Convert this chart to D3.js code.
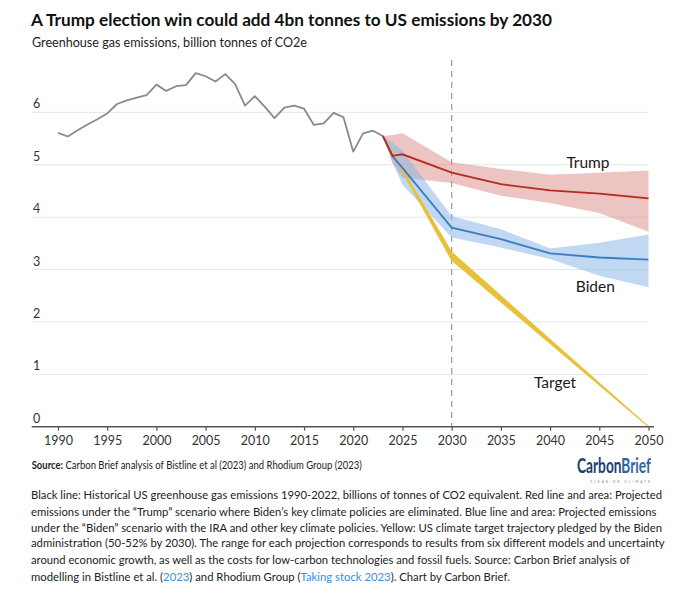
<!DOCTYPE html>
<html>
<head>
<meta charset="utf-8">
<script src="https://cdn.jsdelivr.net/npm/d3@7"></script>
<style>
  body { margin: 0; background: #fff; }
  svg { display: block; font-family: Lato, "Open Sans", sans-serif; }
</style>
</head>
<body>
<svg id="chart" width="680" height="596"></svg>
<script>
// historical emissions, GtCO2e
const histYears = [1990, 1991, 1992, 1993, 1994, 1995, 1996, 1997, 1998, 1999,
  2000, 2001, 2002, 2003, 2004, 2005, 2006, 2007, 2008, 2009,
  2010, 2011, 2012, 2013, 2014, 2015, 2016, 2017, 2018, 2019,
  2020, 2021, 2022, 2023];
const histValues = [5.61, 5.54, 5.66, 5.77, 5.87, 5.98, 6.16, 6.23, 6.28, 6.33,
  6.53, 6.41, 6.50, 6.52, 6.75, 6.69, 6.59, 6.73, 6.54, 6.13,
  6.31, 6.11, 5.89, 6.09, 6.13, 6.07, 5.76, 5.79, 5.99, 5.91,
  5.25, 5.60, 5.65, 5.55];

// projections
const projYears = [2023, 2024, 2025, 2030, 2035, 2040, 2045, 2050];
const trumpMid  = [5.55, 5.17, 5.20, 4.85, 4.63, 4.51, 4.45, 4.36];
const trumpHigh = [5.55, 5.57, 5.60, 5.05, 4.92, 4.81, 4.85, 4.89];
const trumpLow  = [5.55, 5.02, 4.75, 4.65, 4.41, 4.27, 4.08, 3.72];
const bidenMid  = [5.55, 5.16, 4.94, 3.80, 3.58, 3.31, 3.23, 3.19];
const bidenHigh = [5.55, 5.42, 5.27, 4.02, 3.77, 3.40, 3.51, 3.67];
const bidenLow  = [5.55, 5.05, 4.62, 3.61, 3.42, 3.20, 2.88, 2.66];

const targetYears = [2023, 2030, 2050];
const targetHigh = [5.55, 3.33, 0];
const targetLow  = [5.55, 3.18, 0];

const xTicks = [1990, 1995, 2000, 2005, 2010, 2015, 2020, 2025, 2030, 2035, 2040, 2045, 2050];
const yTicks = [0, 1, 2, 3, 4, 5, 6];

const labelNames  = ["Trump", "Biden", "Target"];
const labelYears  = [2043.85, 2044.6, 2040.5];
const labelValues = [4.94, 2.58, 0.74];

const titleText = "A Trump election win could add 4bn tonnes to US emissions by 2030";
const subtitleText = "Greenhouse gas emissions, billion tonnes of CO2e";

// caption, one entry per line: [text, isLink]
const captionLines = [
  [["Black line: Historical US greenhouse gas emissions 1990-2022, billions of tonnes of CO2 equivalent. Red line and area: Projected", 0]],
  [["emissions under the \u201CTrump\u201D scenario where Biden\u2019s key climate policies are eliminated. Blue line and area: Projected emissions", 0]],
  [["under the \u201CBiden\u201D scenario with the IRA and other key climate policies. Yellow: US climate target trajectory pledged by the Biden", 0]],
  [["administration (50-52% by 2030). The range for each projection corresponds to results from six different models and uncertainty", 0]],
  [["around economic growth, as well as the costs for low-carbon technologies and fossil fuels. Source: Carbon Brief analysis of", 0]],
  [["modelling in Bistline et al. (", 0], ["2023", 1], [") and Rhodium Group (", 0], ["Taking stock 2023", 1], ["). Chart by Carbon Brief.", 0]]
];
const captionEnds = [662, 656, 659, 662, 630, 507];

const svg = d3.select("#chart");

const x = d3.scaleLinear().domain([1990, 2050]).range([58, 648.5]);
const y = d3.scaleLinear().domain([0, 7]).range([426.7, 60]);

// title
svg.append("text")
  .attr("x", 31).attr("y", 26)
  .attr("font-size", 17.5).attr("font-weight", 700).attr("fill", "#111")
  .attr("textLength", 521).attr("lengthAdjust", "spacingAndGlyphs")
  .text(titleText);

svg.append("text")
  .attr("x", 32).attr("y", 46.5)
  .attr("font-size", 13).attr("fill", "#222")
  .attr("textLength", 275).attr("lengthAdjust", "spacingAndGlyphs")
  .text(subtitleText);

// gridlines
const grid = svg.append("g");
grid.selectAll("line")
  .data(yTicks.filter(d => d > 0))
  .enter()
  .append("line")
  .attr("x1", 32).attr("x2", x(2050))
  .attr("y1", d => y(d)).attr("y2", d => y(d))
  .attr("stroke", "#e6e6e6").attr("stroke-width", 1);

grid.selectAll("text")
  .data(yTicks)
  .enter()
  .append("text")
  .attr("x", 33).attr("y", d => y(d) - 4)
  .attr("font-size", 12.5).attr("fill", "#333")
  .text(d => d);

// 2030 marker
svg.append("line")
  .attr("x1", x(2030)).attr("x2", x(2030))
  .attr("y1", y(7)).attr("y2", y(0))
  .attr("stroke", "#9a9a9a").attr("stroke-width", 1.2)
  .attr("stroke-dasharray", "6,5");

// bands
const area = (years, lo, hi) => d3.area()
  .x((d, i) => x(years[i]))
  .y0((d, i) => y(lo[i]))
  .y1((d, i) => y(hi[i]))(years);

svg.append("path").attr("d", area(projYears, trumpLow, trumpHigh))
  .attr("fill", "#d98a85").attr("fill-opacity", 0.5);
svg.append("path").attr("d", area(projYears, bidenLow, bidenHigh))
  .attr("fill", "#8db8e6").attr("fill-opacity", 0.55);
svg.append("path").attr("d", area(targetYears, targetLow, targetHigh))
  .attr("fill", "#e8c13a").attr("stroke", "#e8c13a").attr("stroke-width", 1.1)
  .attr("stroke-linejoin", "round");

// lines
const line = (years, vals) => d3.line()
  .x((d, i) => x(years[i]))
  .y((d, i) => y(vals[i]))(years);

svg.append("path").attr("d", line(projYears, bidenMid))
  .attr("fill", "none").attr("stroke", "#3c7cc4").attr("stroke-width", 1.8);
svg.append("path").attr("d", line(projYears, trumpMid))
  .attr("fill", "none").attr("stroke", "#b52a22").attr("stroke-width", 1.8);
svg.append("path").attr("d", line(histYears, histValues))
  .attr("fill", "none").attr("stroke", "#8a8a8a").attr("stroke-width", 1.8)
  .attr("stroke-linejoin", "round");

// scenario labels
svg.append("g").selectAll("text")
  .data(labelNames)
  .enter()
  .append("text")
  .attr("x", (d, i) => x(labelYears[i]))
  .attr("y", (d, i) => y(labelValues[i]))
  .attr("text-anchor", "middle")
  .attr("font-size", 15.5).attr("fill", "#1a1a1a")
  .text(d => d);

// x axis
const xAxis = d3.axisBottom(x)
  .tickValues(xTicks)
  .tickFormat(d3.format("d"))
  .tickSize(4)
  .tickPadding(5);

const axG = svg.append("g")
  .attr("transform", `translate(0,${y(0)})`)
  .call(xAxis);
axG.select(".domain").remove();
axG.selectAll(".tick line").attr("stroke", "#555").attr("stroke-width", 1.2);
axG.selectAll(".tick text")
  .attr("font-family", "Lato, 'Open Sans', sans-serif")
  .attr("font-size", 12.5).attr("fill", "#333");

axG.append("line")
  .attr("x1", 31.7).attr("x2", 654)
  .attr("y1", 0).attr("y2", 0)
  .attr("stroke", "#555").attr("stroke-width", 1.5);

// source
const src = svg.append("text")
  .attr("x", 31.7).attr("y", 469)
  .attr("font-size", 10.5).attr("fill", "#222")
  .attr("textLength", 330).attr("lengthAdjust", "spacingAndGlyphs");
src.append("tspan").attr("font-weight", 700).text("Source:");
src.append("tspan").text(" Carbon Brief analysis of Bistline et al (2023) and Rhodium Group (2023)");

// logo: one text, two-tone via a hard-stop gradient, stretched tall like the condensed wordmark
const grad = svg.append("defs").append("linearGradient")
  .attr("id", "logoFill")
  .attr("gradientUnits", "userSpaceOnUse")
  .attr("x1", 577).attr("x2", 651).attr("y1", 0).attr("y2", 0);
grad.append("stop").attr("offset", 0.615).attr("stop-color", "#1d3f6e");
grad.append("stop").attr("offset", 0.615).attr("stop-color", "#2f64a6");

svg.append("text")
  .attr("x", 577).attr("y", 473)
  .attr("transform", "translate(0,473) scale(1,1.55) translate(0,-473)")
  .attr("font-size", 13.8).attr("font-weight", 700).attr("fill", "url(#logoFill)")
  .attr("textLength", 74).attr("lengthAdjust", "spacingAndGlyphs")
  .text("CarbonBrief");

svg.append("text")
  .attr("x", 590).attr("y", 482.5)
  .attr("font-size", 3.2).attr("fill", "#6a7f99")
  .attr("textLength", 60).attr("lengthAdjust", "spacing")
  .text("CLEAR ON CLIMATE");

// caption
const cap = svg.append("g");
const captionBase = [499, 515.7, 531.7, 547.3, 564, 580.7];
captionLines.forEach((segs, i) => {
  const t = cap.append("text")
    .attr("x", 31).attr("y", captionBase[i])
    .attr("font-size", 11.3).attr("fill", "#222");
  segs.forEach(s => {
    t.append("tspan").attr("fill", s[1] ? "#3a8dde" : "#222").text(s[0]);
  });
  const w = t.node().getComputedTextLength();
  const target = captionEnds[i] - 31;
  if (Math.abs(w - target) > 3) {
    t.attr("textLength", target).attr("lengthAdjust", "spacingAndGlyphs");
  }
});
</script>
</body>
</html>
